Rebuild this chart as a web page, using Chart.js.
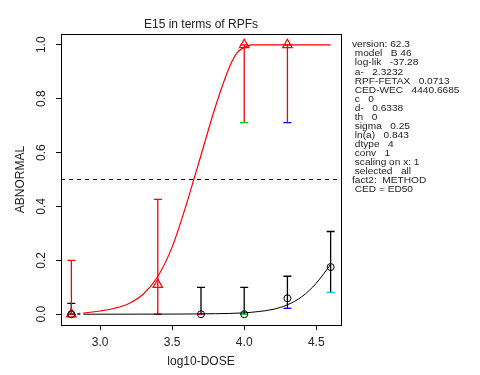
<!DOCTYPE html>
<html>
<head>
<meta charset="utf-8">
<script src="https://cdn.jsdelivr.net/npm/chart.js@4/dist/chart.umd.min.js"></script>
<style>
  html, body { margin: 0; padding: 0; background: #fff; }
  #wrap { width: 480px; height: 375px; }
</style>
</head>
<body>
<div id="wrap"><canvas id="c" width="480" height="375"></canvas></div>
<script>
// tick values
const xTicks = [3.0, 3.5, 4.0, 4.5];
const yTicks = [0.0, 0.2, 0.4, 0.6, 0.8, 1.0];

// red group (triangles)
const redDose = [2.8, 3.4, 4.0, 4.3];
const redProp = [0, 0.11, 1.0, 1.0];
const redLow = [0, 0, 0.711, 0.711];
const redHigh = [0.2, 0.426, 1.0, 1.0];
const redLowTick = ['#ff0000', '#ff0000', '#00cd00', '#0000ff'];

// black group (circles)
const blackDose = [2.8, 3.7, 4.0, 4.3, 4.6];
const blackProp = [0, 0, 0, 0.059, 0.175];
const blackLow = [0, 0, 0, 0.022, 0.081];
const blackHigh = [0.04, 0.1, 0.1, 0.141, 0.307];
const blackLowTick = ['#000000', '#ff0000', '#00cd00', '#0000ff', '#00cccc'];

// fitted curves
const redFitX = [2.9, 3.0, 3.1, 3.2, 3.3, 3.4, 3.5, 3.6, 3.65, 3.7, 3.8, 3.9, 3.95, 4.0, 4.05, 4.1, 4.6];
const redFitY = [0.005, 0.012, 0.022, 0.04, 0.075, 0.14, 0.25, 0.41, 0.5, 0.59, 0.77, 0.92, 0.97, 0.99, 1.0, 1.0, 1.0];
const blackFitX = [2.9, 3.5, 3.8, 4.0, 4.1, 4.2, 4.3, 4.4, 4.5, 4.6];
const blackFitY = [0, 0.0005, 0.002, 0.005, 0.01, 0.018, 0.035, 0.065, 0.115, 0.185];
const extrapX = [2.8, 2.9];
const redExtrapY = [0, 0.005];
const blackExtrapY = [0, 0];

const refLevel = 0.5;
const xMin = 2.728, xMax = 4.672;

const infoLines = [
  'version: 62.3', ' model   B 46', ' log-lik   -37.28', ' a-   2.3232',
  ' RPF-FETAX   0.0713', ' CED-WEC   4440.6685', ' c   0', ' d-   0.6338',
  ' th   0', ' sigma   0.25', ' ln(a)   0.843', ' dtype   4', ' conv   1',
  ' scaling on x: 1', ' selected   all', 'fact2:  METHOD', ' CED = ED50'
];

const FONT = 'Liberation Sans, Arial, sans-serif';
const toXY = (xs, ys) => xs.map((x, i) => ({ x: x, y: ys[i] }));

// error bars + frame + texts
const decor = {
  id: 'decor',
  beforeDatasetsDraw(chart) {
    const ctx = chart.ctx;
    const xs = chart.scales.x, ys = chart.scales.y;
    const bars = (dose, lo, hi, col, lowCols) => {
      dose.forEach((d, i) => {
        const px = xs.getPixelForValue(d);
        const pl = ys.getPixelForValue(lo[i]);
        const ph = ys.getPixelForValue(hi[i]);
        ctx.save();
        ctx.lineWidth = 1.3;
        ctx.strokeStyle = col;
        ctx.beginPath();
        ctx.moveTo(px, pl); ctx.lineTo(px, ph);
        ctx.moveTo(px - 4, ph); ctx.lineTo(px + 4, ph);
        ctx.stroke();
        ctx.strokeStyle = lowCols[i];
        ctx.beginPath();
        ctx.moveTo(px - 4, pl); ctx.lineTo(px + 4, pl);
        ctx.stroke();
        ctx.restore();
      });
    };
    bars(blackDose, blackLow, blackHigh, '#000000', blackLowTick);
    bars(redDose, redLow, redHigh, '#ff0000', redLowTick);
  },
  afterDraw(chart) {
    const ctx = chart.ctx;
    const a = chart.chartArea;
    const ys = chart.scales.y;
    ctx.save();
    ctx.strokeStyle = '#000';
    ctx.lineWidth = 1;
    ctx.strokeRect(a.left + 0.5, a.top + 0.5, a.right - a.left, a.bottom - a.top);

    ctx.fillStyle = '#222';
    ctx.font = '12px ' + FONT;
    ctx.textAlign = 'center';
    ctx.textBaseline = 'middle';
    ctx.fillText('E15 in terms of RPFs', (a.left + a.right) / 2, 25);
    ctx.fillText('log10-DOSE', (a.left + a.right) / 2, 362);

    // rotated y tick labels
    yTicks.forEach(v => {
      ctx.save();
      ctx.translate(42, ys.getPixelForValue(v));
      ctx.rotate(-Math.PI / 2);
      ctx.fillText(v.toFixed(1), 0, 0);
      ctx.restore();
    });
    ctx.save();
    ctx.translate(21, (a.top + a.bottom) / 2);
    ctx.rotate(-Math.PI / 2);
    ctx.fillText('ABNORMAL', 0, 0);
    ctx.restore();

    // model info, slightly wide lettering as in the original
    ctx.font = '8.5px ' + FONT;
    ctx.textAlign = 'left';
    infoLines.forEach((t, i) => {
      ctx.save();
      ctx.translate(352, 45 + i * 9.06);
      ctx.scale(1.19, 1);
      ctx.fillText(t, 0, 0);
      ctx.restore();
    });
    ctx.restore();
  }
};

new Chart(document.getElementById('c'), {
  type: 'scatter',
  data: {
    datasets: [
      { data: toXY([xMin, xMax], [refLevel, refLevel]), showLine: true, borderColor: '#000', borderWidth: 1,
        borderDash: [4, 4], pointRadius: 0 },
      { data: toXY(extrapX, redExtrapY), showLine: true, borderColor: '#ff0000', borderWidth: 1.2,
        borderDash: [3, 3], pointRadius: 0 },
      { data: toXY(extrapX, blackExtrapY), showLine: true, borderColor: '#000', borderWidth: 1,
        borderDash: [3, 3], pointRadius: 0 },
      { data: toXY(redFitX, redFitY), showLine: true, borderColor: '#ff0000', borderWidth: 1.2,
        cubicInterpolationMode: 'monotone', pointRadius: 0 },
      { data: toXY(blackFitX, blackFitY), showLine: true, borderColor: '#000', borderWidth: 1,
        cubicInterpolationMode: 'monotone', pointRadius: 0 },
      { data: toXY(blackDose, blackProp), pointStyle: 'circle', pointRadius: 3.5,
        borderColor: '#000', backgroundColor: 'rgba(0,0,0,0)', pointBorderWidth: 1 },
      { data: toXY(redDose, redProp), pointStyle: 'triangle', pointRadius: 5.5,
        borderColor: '#ff0000', backgroundColor: 'rgba(0,0,0,0)', pointBorderWidth: 1.2 }
    ]
  },
  options: {
    responsive: false,
    animation: false,
    events: [],
    layout: { padding: { top: 34, right: 139, left: 0, bottom: 0 } },
    plugins: { legend: { display: false }, title: { display: false }, tooltip: { enabled: false } },
    scales: {
      x: {
        type: 'linear', min: xMin, max: xMax,
        afterBuildTicks: s => { s.ticks = xTicks.map(v => ({ value: v })); },
        afterFit: s => { s.height = 50; },
        grid: { drawOnChartArea: false, drawTicks: true, tickLength: 5, color: '#000' },
        border: { display: true, color: '#000' },
        ticks: { color: '#222', padding: 5, font: { size: 12, family: FONT },
                 callback: v => v.toFixed(1), maxRotation: 0 }
      },
      y: {
        type: 'linear', min: -0.04, max: 1.04,
        afterBuildTicks: s => { s.ticks = yTicks.map(v => ({ value: v })); },
        afterFit: s => { s.width = 61; },
        grid: { drawOnChartArea: false, drawTicks: true, tickLength: 5, color: '#000' },
        border: { display: true, color: '#000' },
        ticks: { display: false }
      }
    }
  },
  plugins: [decor]
});
</script>
</body>
</html>
